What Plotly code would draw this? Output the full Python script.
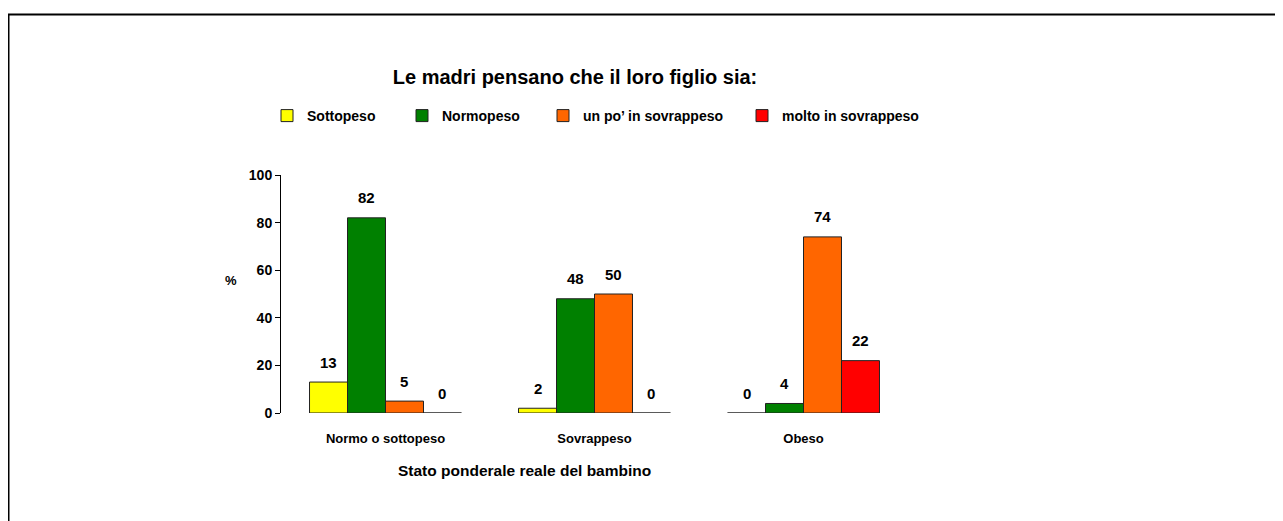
import plotly.graph_objects as go

categories = ["Normo o sottopeso", "Sovrappeso", "Obeso"]
series_names = ["Sottopeso", "Normopeso", "un po\u2019 in sovrappeso", "molto in sovrappeso"]
sottopeso = [13, 2, 0]
normopeso = [82, 48, 4]
un_po = [5, 50, 74]
molto = [0, 0, 22]
colors = ["#FFFF00", "#008000", "#FF6600", "#FF0000"]
y_ticks = [0, 20, 40, 60, 80, 100]

title_text = "Le madri pensano che il loro figlio sia:"
x_title = "Stato ponderale reale del bambino"
y_title = "%"

FONT = "Liberation Sans, Arial, sans-serif"

# the page body adds an 8px margin; work in screenshot pixels and subtract it
OFF = 8
W, H = 1283 - OFF, 521 - OFF
L, T = 281 - OFF, 175 - OFF
R = W - (908 - OFF)
B = H - (413 - OFF)
pw = W - L - R
ph = H - T - B
BARGAP = 0.273

def px_x(p):
    return (p - OFF - L) / pw

def px_y(p):
    return (H - B - (p - OFF)) / ph

legend_marker_px = [289, 424, 565, 764]
all_values = [sottopeso, normopeso, un_po, molto]
n_series = len(all_values)
bar_px = pw / len(categories) * (1 - BARGAP) / n_series

fig = go.Figure()
for i, (name, vals, col) in enumerate(zip(series_names, all_values, colors)):
    lg = "legend" if i == 0 else f"legend{i+1}"
    fig.add_trace(go.Bar(
        x=categories, y=vals, name=name, legend=lg,
        marker=dict(color=col, line=dict(color="#222222", width=1)),
        cliponaxis=False,
        hovertemplate="%{x}: %{y}<extra>" + name + "</extra>",
    ))
    # value labels above each bar
    for cat, v in zip(categories, vals):
        fig.add_annotation(
            x=cat, y=v, xref="x", yref="y",
            text=f"<b>{v}</b>", showarrow=False,
            xanchor="center", yanchor="middle",
            xshift=(i - (n_series - 1) / 2) * bar_px, yshift=20,
            font=dict(family=FONT, size=15, color="black"),
        )

legend_common = dict(
    orientation="h", yanchor="middle", xanchor="left",
    font=dict(family=FONT, size=14, color="black", weight="bold"),
    bgcolor="rgba(0,0,0,0)", borderwidth=0, itemwidth=30,
)
layout_legends = {}
for i, mx in enumerate(legend_marker_px):
    key = "legend" if i == 0 else f"legend{i+1}"
    layout_legends[key] = dict(legend_common, x=px_x(mx - 22), y=px_y(116))

fig.update_layout(
    width=W, height=H,
    margin=dict(l=L, r=R, t=T, b=B, pad=0),
    paper_bgcolor="white", plot_bgcolor="white",
    barmode="group", bargap=BARGAP, bargroupgap=0,
    showlegend=True,
    font=dict(family=FONT, color="black"),
    title=dict(
        text="<b>" + title_text + "</b>",
        x=px_x(575), xref="paper", xanchor="center",
        y=1 - (77 - OFF) / H, yref="container", yanchor="middle",
        font=dict(family=FONT, size=20, color="black"),
    ),
    **layout_legends,
)

fig.update_yaxes(
    range=[0, 100], tickvals=y_ticks, ticks="outside", ticklen=5,
    tickcolor="black", showline=True, linecolor="black", linewidth=1,
    showgrid=False, zeroline=False,
    tickfont=dict(family=FONT, size=14, color="black", weight="bold"),
)
fig.update_xaxes(
    showline=False, showgrid=False, ticks="", zeroline=False,
    ticklabelstandoff=16,
    tickfont=dict(family=FONT, size=13, color="black", weight="bold"),
)

fig.add_annotation(
    text="<b>" + x_title + "</b>", xref="paper", yref="paper",
    x=px_x(524), y=px_y(470), xanchor="center", yanchor="middle",
    showarrow=False, font=dict(family=FONT, size=15.5, color="black"),
)
fig.add_annotation(
    text="<b>" + y_title + "</b>", xref="paper", yref="paper",
    x=px_x(231), y=px_y(280), xanchor="center", yanchor="middle",
    showarrow=False, font=dict(family=FONT, size=13, color="black"),
)

# outer frame (top and left edges visible, others beyond the image)
fig.add_shape(
    type="rect", xref="paper", yref="paper", layer="above",
    x0=px_x(8.5), x1=px_x(1283 + 20), y0=px_y(521 + 20), y1=px_y(14.5),
    line=dict(color="black", width=2), fillcolor="rgba(0,0,0,0)",
)

fig.write_html("out.html")
